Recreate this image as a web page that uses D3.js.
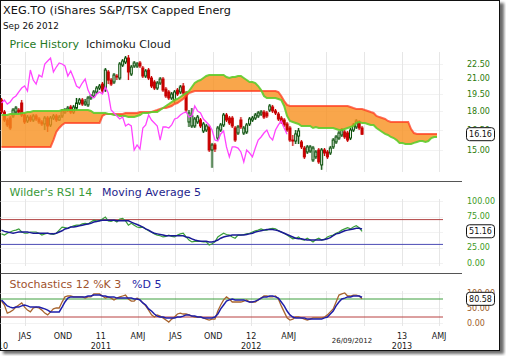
<!DOCTYPE html>
<html><head><meta charset="utf-8">
<script src="https://cdn.jsdelivr.net/npm/d3@7"></script>
<style>html,body{margin:0;padding:0;background:#fff;} svg{display:block;font-family:"DejaVu Sans",Verdana,sans-serif;}</style>
</head><body><svg id="c" width="506" height="356"></svg>
<script>
// ---------- DATA (weekly, first week starts Mon 3 May 2010) ----------
const title = "XEG.TO (iShares S&P/TSX Capped Energ";
const dateText = "Sep 26 2012";
const lastDateLabel = "26/09/2012";

const openP = [18.99,17.94,17.28,17.44,17.61,17.94,18.11,18.72,17.69,17.20,
17.52,17.28,17.61,17.36,17.12,16.96,17.44,16.88,17.44,17.61,
17.28,17.61,17.94,18.11,18.37,17.94,18.28,18.72,18.99,18.63,
18.55,19.17,19.35,19.72,20.09,20.47,19.90,21.67,20.86,20.67,
21.26,21.06,22.39,22.71,23.14,21.46,22.29,22.29,22.61,22.08,
21.26,21.87,21.06,20.67,20.09,20.57,20.96,19.99,19.72,19.17,
18.99,19.90,19.72,20.28,19.62,17.12,16.80,16.80,17.12,17.28,
16.41,16.48,16.72,15.00,15.36,15.87,16.48,16.88,17.69,17.44,
17.44,16.64,16.25,17.28,16.25,16.33,16.96,17.28,17.44,17.61,
17.77,17.94,17.86,18.11,18.37,18.03,17.77,17.44,17.28,16.96,
16.64,15.72,15.65,16.02,15.58,15.14,14.86,14.93,14.31,14.52,
15.00,13.98,15.00,14.86,14.79,15.22,15.58,15.87,16.10,16.33,
16.25,15.87,16.48,16.72,17.12,16.64];
const closeP = [17.94,17.28,16.88,16.64,18.11,18.28,17.94,17.69,17.12,17.52,
17.28,17.61,17.36,17.12,16.96,17.44,16.80,17.44,17.61,17.28,
17.52,18.03,18.11,18.28,17.94,18.37,18.72,18.99,18.63,18.81,
19.17,19.35,19.72,20.09,20.28,19.81,21.87,20.86,20.47,21.36,
21.16,22.50,22.82,23.14,21.67,22.18,22.61,22.50,22.29,21.26,
21.77,21.06,20.28,20.09,20.57,20.96,19.90,19.35,19.17,19.53,
19.72,19.53,20.19,19.62,18.11,17.86,17.61,17.36,17.52,16.80,
16.96,16.80,15.00,15.36,15.07,16.64,16.88,17.69,17.28,17.04,
16.80,15.72,16.72,16.72,16.64,16.88,17.36,17.44,17.69,17.86,
17.94,17.52,17.61,18.46,18.03,17.86,17.36,17.12,16.88,16.48,
15.72,15.65,16.18,16.41,15.22,14.52,15.22,15.22,15.14,14.86,
14.18,15.00,14.79,14.52,15.14,15.72,15.95,16.25,16.48,15.95,
15.72,16.48,16.88,17.20,16.64,16.16];
const highP = [19.17,18.11,17.44,17.61,18.28,18.46,18.28,18.99,17.86,17.69,
17.69,17.77,17.77,17.52,17.28,17.61,17.61,17.61,17.77,17.77,
17.69,18.20,18.28,18.46,18.55,18.55,19.17,19.17,19.17,19.08,
19.35,19.53,19.90,20.28,20.47,20.67,22.08,21.87,21.06,21.56,
21.46,22.71,23.03,23.36,23.47,22.39,22.82,22.71,22.82,22.29,
21.97,22.08,21.26,20.86,20.76,21.16,21.16,20.19,19.90,19.72,
19.90,20.09,20.38,20.57,19.81,18.11,18.28,17.52,17.69,17.44,
17.12,16.96,16.88,15.51,15.51,16.80,17.04,17.86,17.86,17.61,
17.61,16.80,16.88,17.52,16.80,17.04,17.52,17.61,17.86,18.03,
18.11,18.11,18.03,18.63,18.55,18.20,17.94,17.61,17.44,17.12,
16.80,16.10,16.48,16.64,15.72,15.29,15.36,15.36,15.29,15.00,
15.14,15.14,15.14,15.00,15.29,15.87,16.10,16.41,16.64,16.48,
16.41,16.64,17.04,17.36,17.28,16.80];
const lowP = [17.77,17.12,16.72,16.48,17.44,17.77,17.77,17.52,16.96,17.04,
17.12,17.12,17.20,16.96,16.80,16.48,16.33,16.72,17.28,17.12,
17.20,17.44,17.77,17.94,17.77,17.77,18.11,18.55,18.46,18.46,
18.37,18.99,19.17,19.53,19.90,19.62,19.72,20.47,20.28,20.47,
20.86,20.86,22.18,22.50,20.86,21.26,22.08,22.08,22.08,21.06,
21.06,20.86,20.09,19.90,19.90,20.38,19.72,19.17,18.99,18.99,
18.72,19.35,19.53,19.35,17.94,16.72,16.64,16.64,16.96,16.64,
16.25,16.33,14.86,13.79,14.86,15.72,16.33,16.72,17.12,16.88,
16.64,15.58,16.10,16.56,16.10,16.18,16.80,17.12,17.28,17.44,
17.61,17.36,17.44,17.94,17.86,17.69,17.20,16.96,16.72,16.33,
15.58,15.29,15.43,15.43,15.07,14.38,14.72,14.79,14.18,14.38,
14.05,13.66,14.58,14.38,14.65,15.07,15.43,15.72,15.95,15.80,
15.58,15.72,16.33,16.56,16.48,16.10];

// Ichimoku cloud (plotted 26 weeks ahead -> 152 weeks)
const spanA = [17.69,17.69,17.69,17.77,17.77,17.77,17.77,17.86,17.86,17.94,
17.94,18.03,18.03,18.03,18.03,18.03,18.03,18.03,18.03,18.03,
18.03,18.11,18.11,18.11,18.11,18.11,18.11,18.11,18.11,18.11,
18.11,18.03,17.86,17.86,17.86,17.86,17.86,17.77,17.77,17.69,
17.69,17.61,17.61,17.61,17.52,17.52,17.52,17.61,17.69,17.86,
17.86,17.86,17.94,17.94,17.94,18.11,18.28,18.46,18.63,18.81,
18.99,19.08,19.26,19.44,19.62,19.81,20.19,20.57,20.76,20.86,
21.06,21.26,21.36,21.36,21.36,21.36,21.36,21.36,21.16,21.06,
21.16,21.16,21.26,21.26,21.06,20.86,20.67,20.67,20.57,20.28,
19.90,19.35,19.17,19.17,19.17,19.17,19.08,18.99,18.46,17.61,
17.20,17.12,17.04,16.96,16.80,16.80,16.80,16.80,16.64,16.72,
16.64,16.64,16.64,16.64,16.64,16.64,16.56,16.48,16.48,16.56,
16.64,16.72,16.80,17.04,17.12,17.04,17.04,16.96,16.88,16.88,
16.64,16.48,16.33,16.18,16.10,15.95,15.87,15.72,15.51,15.51,
15.43,15.43,15.43,15.51,15.58,15.65,15.65,15.58,15.65,15.87,
15.95,15.95];
const spanB = [15.22,15.22,15.22,15.22,15.22,15.22,15.22,15.22,15.22,15.22,
15.22,15.22,15.22,15.22,15.22,15.22,15.22,15.22,15.72,16.33,
16.64,16.88,17.04,17.04,17.04,17.04,17.04,17.04,17.04,17.04,
17.04,17.04,17.04,17.04,17.04,17.61,17.77,17.77,17.77,17.77,
17.77,17.77,17.77,17.86,17.86,17.86,17.86,17.86,17.94,17.94,
17.94,17.94,17.94,18.03,18.11,18.20,18.28,18.28,18.37,18.46,
18.63,18.72,18.90,19.08,19.35,19.62,19.72,19.81,19.81,19.81,
19.81,19.81,19.81,19.81,19.81,19.81,19.81,19.81,19.81,19.81,
19.81,19.81,19.81,19.81,19.81,19.81,19.81,19.81,19.81,19.81,
19.81,19.81,19.81,19.81,19.81,19.81,19.72,19.35,18.90,18.55,
18.46,18.46,18.46,18.46,18.46,18.46,18.46,18.46,18.46,18.46,
18.46,18.46,18.46,18.46,18.46,18.46,18.46,18.46,18.46,18.46,
18.46,18.37,18.28,18.20,18.20,18.20,18.11,18.03,17.94,17.86,
17.61,17.52,17.44,17.36,17.20,17.12,17.12,17.12,17.12,17.12,
17.12,17.12,16.56,16.25,16.18,16.18,16.18,16.18,16.18,16.18,
16.18,16.18];

const rsi = [47,45,48,50,52,53,55,50,48,48, 50,50,50,48,45,47,48,47,46,48,
53,58,57,56,58,60,61,61,63,64, 63,66,69,68,68,71,74,68,67,69,
66,71,72,68,61,64,61,58,57,58, 55,52,50,47,45,44,42,43,45,43,
42,45,47,48,42,37,34,35,35,35, 34,34,29,31,34,42,45,48,46,45,
42,40,45,45,46,47,48,50,52,53, 55,53,53,55,56,55,52,50,48,45,
42,39,40,42,38,37,40,37,34,38, 40,37,38,42,44,45,48,50,53,55,
57,55,58,60,57,51.16];
const rsiMA = [53,51,50,49,48,49,50,50,50,50, 49,48,48,48,48,48,48,47,47,48,
50,52,55,56,58,58,59,60,61,62, 63,64,66,67,68,69,69,69,69,69,
68,68,68,68,68,66,64,62,60,58, 55,53,50,48,47,46,45,44,44,44,
44,44,44,44,42,41,39,37,36,35, 35,35,34,34,35,37,40,42,43,44,
45,45,45,45,45,46,47,48,50,51, 52,53,54,54,54,53,52,50,48,46,
44,42,40,39,39,38,37,37,37,37, 37,37,38,39,41,44,47,48,50,52,
53,54,55,56,56,55];
const stochK = [73,60,33,37,43,53,60,67,53,43, 37,50,53,50,43,33,27,37,47,50,
50,70,87,90,90,87,87,87,87,83, 87,87,97,97,97,90,83,87,83,77,
83,87,90,93,80,73,73,83,77,67, 57,43,27,20,27,23,17,10,3,13,
20,30,33,30,30,27,23,20,20,20, 17,13,10,13,13,40,60,77,87,80,
70,70,70,70,73,77,70,70,70,77, 83,90,90,87,87,90,80,57,37,17,
10,13,20,20,17,13,10,13,17,17, 17,17,20,27,37,47,70,93,97,100,
90,90,93,93,90,80.58];
const stochD = [77,67,57,53,50,53,53,57,60,57, 53,53,53,53,50,47,43,37,37,37,
37,53,70,83,87,87,87,87,87,87, 90,90,93,93,93,90,90,87,87,87,
83,83,83,83,83,83,80,80,77,67, 60,47,40,30,23,20,20,17,17,17,
17,20,20,23,27,27,23,23,20,20, 17,17,17,17,20,30,47,60,73,77,
80,77,77,77,77,73,70,70,73,77, 83,87,87,90,90,87,83,70,57,40,
27,20,17,17,17,17,13,13,13,13, 13,13,17,20,30,40,57,70,80,83,
87,87,90,90,90,86];

const priceTicks = [15, 16.5, 18, 19.5, 21, 22.5];
const priceTickLabels = ["15.00","16.50","18.00","19.50","21.00","22.50"];
const rsiTicks = [0, 25, 50, 75, 100];
const rsiTickLabels = ["0.00","25.00","50.00","75.00","100.00"];
const stochTicks = [0, 50, 100];
const stochTickLabels = ["0.00","50.00","100.00"];
const xTickLabels = ["JAS","OND","11","AMJ","JAS","OND","12","AMJ","","","13","AMJ"];
const yearLabels = ["2010","2011","2012","2013"];

// ---------- SCALES ----------
const svg = d3.select("#c");
const startMonday = new Date(2010, 4, 3);
const dateOf = k => d3.timeDay.offset(d3.timeMonday.offset(startMonday, k), 2);
const lastDate = new Date(2012, 8, 26);

const x = d3.scaleTime().domain([new Date(2010,6,1), new Date(2013,0,1)]).range([25, 402]);
const yP = d3.scaleLog().domain([15, 22.5]).range([150, 64]);
const yR = d3.scaleLinear().domain([0, 100]).range([263, 201]);
const yS = d3.scaleLinear().domain([0, 100]).range([323, 293]);
const plotRight = 443;
const tickDates = d3.timeMonth.every(3).range(new Date(2010,6,1), new Date(2013,3,2));

// ---------- FRAME ----------
const defs = svg.append("defs");
defs.append("filter").attr("id","sh").attr("x","-5%").attr("y","-5%").attr("width","115%").attr("height","115%")
  .append("feGaussianBlur").attr("stdDeviation", 1.6);
defs.append("clipPath").attr("id","cl").append("rect").attr("x",0.5).attr("y",0.5).attr("width",499).attr("height",350);
svg.append("rect").attr("x",3).attr("y",3).attr("width",501).attr("height",351).attr("fill","#6a6a6a").attr("filter","url(#sh)");
svg.append("rect").attr("x",0.5).attr("y",0.5).attr("width",499).attr("height",350).attr("fill","#fff").attr("stroke","#111");

const g = svg.append("g").attr("clip-path","url(#cl)");

// ---------- HEADER TEXT ----------
g.append("text").attr("x",3).attr("y",14).attr("font-size",11.3).attr("fill","#111").text(title);
g.append("text").attr("x",3).attr("y",28.5).attr("font-size",8.8).attr("fill","#111").text(dateText);

// ---------- GRIDS ----------
function vgrid(y0, y1) {
  g.append("g").selectAll("line").data(tickDates).join("line")
    .attr("x1", d => Math.round(x(d)) + 0.5).attr("x2", d => Math.round(x(d)) + 0.5)
    .attr("y1", y0).attr("y2", y1).attr("stroke", "#e6e6e6").attr("stroke-width", 1);
}
function hgrid(vals, sc) {
  g.append("g").selectAll("line").data(vals).join("line")
    .attr("x1", 0).attr("x2", plotRight)
    .attr("y1", d => Math.round(sc(d)) + 0.5).attr("y2", d => Math.round(sc(d)) + 0.5)
    .attr("stroke", "#f2f2f2");
}
hgrid(priceTicks, yP); vgrid(52, 172);
hgrid(rsiTicks, yR); vgrid(199, 266);
hgrid(stochTicks, yS); vgrid(291, 326);

// separators
[181.5, 273.5].forEach(yy => g.append("line").attr("x1",0).attr("x2",462).attr("y1",yy).attr("y2",yy).attr("stroke","#555"));

// ---------- PRICE PANEL ----------
g.append("text").attr("x",9.5).attr("y",48).attr("font-size",11).attr("fill","#1f7a1f").text("Price History");
g.append("text").attr("x",86).attr("y",48).attr("font-size",11).attr("fill","#1a1a1a").text("Ichimoku Cloud");

const candles = closeP.map((c, k) => ({ d: dateOf(k), o: openP[k], h: highP[k], l: lowP[k], c }));
const cg = g.append("g");
const bw = 2;
candles.forEach(cd => {
  const cx = x(cd.d);
  const up = cd.c >= cd.o;
  const top = yP(Math.max(cd.o, cd.c)), bot = yP(Math.min(cd.o, cd.c));
  const col = up ? "#0a4f0a" : "#c80000";
  cg.append("line").attr("x1",cx).attr("x2",cx).attr("y1",yP(cd.h)).attr("y2",yP(cd.l))
    .attr("stroke", up ? "rgba(90,140,90,0.35)" : "rgba(200,0,0,0.15)").attr("stroke-width",3);
  cg.append("line").attr("x1",cx).attr("x2",cx).attr("y1",yP(cd.h)).attr("y2",yP(cd.l))
    .attr("stroke", col).attr("stroke-width",1);
  cg.append("rect").attr("x",cx-bw/2).attr("y",top).attr("width",bw).attr("height",Math.max(0.8, bot-top))
    .attr("fill", up ? "#e8f4e8" : "#c80000").attr("stroke", col).attr("stroke-width",1);
});

// cloud
const cloud = spanA.map((a, k) => ({ d: dateOf(k), a, b: spanB[k] }));
g.append("path").datum(cloud)
  .attr("d", d3.area().x(d => x(d.d)).y0(d => yP(d.a)).y1(d => yP(d.b)))
  .attr("fill", "#f7901e").attr("fill-opacity", 0.8);
g.append("path").datum(cloud)
  .attr("d", d3.line().x(d => x(d.d)).y(d => yP(d.b)))
  .attr("fill","none").attr("stroke","#ff3b1f").attr("stroke-opacity",0.75).attr("stroke-width",2);
g.append("path").datum(cloud)
  .attr("d", d3.line().x(d => x(d.d)).y(d => yP(d.a)))
  .attr("fill","none").attr("stroke","#5fcc2c").attr("stroke-opacity",0.9).attr("stroke-width",2);

// chikou (lagging close)
const chikou = closeP.slice(26).map((c, i) => ({ d: dateOf(i), v: c }));
g.append("path").datum(chikou)
  .attr("d", d3.line().x(d => x(d.d)).y(d => yP(d.v)))
  .attr("fill","none").attr("stroke","#ff44ff").attr("stroke-width",1.3);

// price axis
g.append("g").selectAll("text").data(priceTicks).join("text")
  .attr("x",467).attr("y", d => yP(d)).attr("dy","0.35em").attr("font-size",8).attr("fill","#2b7a0b")
  .text((d,i) => priceTickLabels[i]);

function valueBox(v, yy, txt) {
  const bg = g.append("g");
  bg.append("rect").attr("x",466.5).attr("y",yy-6.5).attr("width",28).attr("height",13).attr("rx",3)
    .attr("fill","#fff").attr("stroke","#111");
  bg.append("text").attr("x",480.5).attr("y",yy).attr("dy","0.35em").attr("text-anchor","middle")
    .attr("font-size",8).attr("fill","#111").text(txt);
}
const lastClose = closeP[closeP.length-1];
valueBox(lastClose, yP(lastClose), lastClose.toFixed(2));

// ---------- RSI PANEL ----------
const rl = g.append("text").attr("y",196).attr("font-size",11);
rl.append("tspan").attr("x",9.5).attr("fill","#3a993a").text("Wilder's RSI 14");
rl.append("tspan").attr("x",102).attr("fill","#1e1e8c").text("Moving Average 5");
g.append("line").attr("x1",0).attr("x2",plotRight).attr("y1",yR(70)).attr("y2",yR(70)).attr("stroke","#b24545");
g.append("line").attr("x1",0).attr("x2",plotRight).attr("y1",yR(30)).attr("y2",yR(30)).attr("stroke","#4a4ab4");
const lineR = d3.line().x((d,k) => x(dateOf(k))).y(d => yR(d));
g.append("path").datum(rsi).attr("d", lineR).attr("fill","none").attr("stroke","#3a9e3a").attr("stroke-width",1.2);
g.append("path").datum(rsiMA).attr("d", lineR).attr("fill","none").attr("stroke","#1a1a96").attr("stroke-width",1.5);
g.append("g").selectAll("text").data(rsiTicks).join("text")
  .attr("x",467).attr("y", d => yR(d)).attr("dy","0.35em").attr("font-size",8).attr("fill","#3c9a1e")
  .text((d,i) => rsiTickLabels[i]);
const lastRsi = rsi[rsi.length-1];
valueBox(lastRsi, yR(lastRsi), lastRsi.toFixed(2));

// ---------- STOCHASTICS PANEL ----------
const sl = g.append("text").attr("y",288).attr("font-size",11);
sl.append("tspan").attr("x",9.5).attr("fill","#a0522d").text("Stochastics 12 %K 3");
sl.append("tspan").attr("x",132).attr("fill","#2424a4").text("%D 5");
g.append("line").attr("x1",0).attr("x2",plotRight).attr("y1",yS(80)).attr("y2",yS(80)).attr("stroke","#3f9f3f");
g.append("line").attr("x1",0).attr("x2",plotRight).attr("y1",yS(20)).attr("y2",yS(20)).attr("stroke","#b84040");
const lineS = d3.line().x((d,k) => x(dateOf(k))).y(d => yS(d));
g.append("path").datum(stochK).attr("d", lineS).attr("fill","none").attr("stroke","#a8642e").attr("stroke-width",1.3);
g.append("path").datum(stochD).attr("d", lineS).attr("fill","none").attr("stroke","#1e1eaa").attr("stroke-width",1.5);
g.append("g").selectAll("text").data(stochTicks).join("text")
  .attr("x",467).attr("y", d => yS(d)).attr("dy","0.35em").attr("font-size",8).attr("fill","#a0602d")
  .text((d,i) => stochTickLabels[i]);
const lastK = stochK[stochK.length-1];
valueBox(lastK, yS(lastK), lastK.toFixed(2));

// ---------- X AXIS ----------
g.append("g").selectAll("text").data(tickDates).join("text")
  .attr("x", d => x(d)).attr("y", 338.5).attr("text-anchor","middle").attr("font-size",8).attr("fill","#1a1a1a")
  .text((d,i) => xTickLabels[i]);
const yearTicks = [new Date(2010,0,1)].concat(tickDates.filter(d => d.getMonth() === 0));
g.append("g").selectAll("text").data(yearTicks).join("text")
  .attr("x", (d,i) => i === 0 ? 8 : x(d)).attr("y", 348.5)
  .attr("text-anchor", (d,i) => i === 0 ? "end" : "middle").attr("font-size",8).attr("fill","#1a1a1a")
  .text((d,i) => yearLabels[i]);
g.append("text").attr("x", x(lastDate) - 10).attr("y", 343).attr("text-anchor","middle")
  .attr("font-size",7).attr("fill","#1a1a1a").text(lastDateLabel);
</script></body></html>
